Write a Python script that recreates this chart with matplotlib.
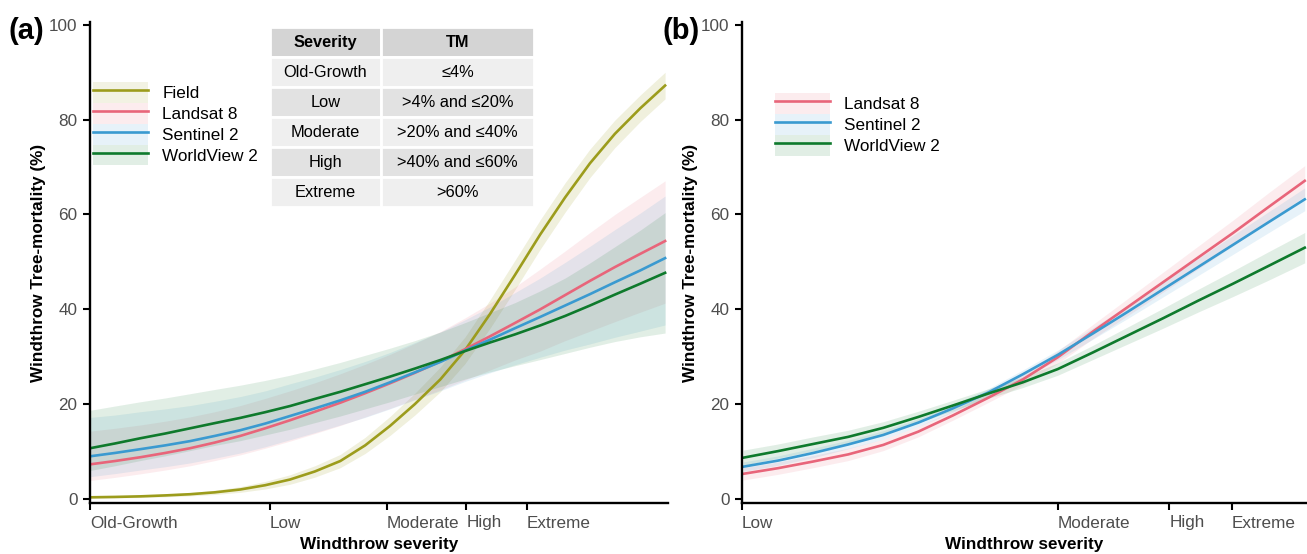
import matplotlib
matplotlib.use("Agg")
import matplotlib.pyplot as plt
from matplotlib.patches import Patch
from matplotlib.lines import Line2D
from matplotlib.legend_handler import HandlerTuple
import numpy as np

plt.rcParams['font.family'] = ['Liberation Sans', 'DejaVu Sans']

# ---- panel (a): all sources, x = normalised severity index ----
xa = [0.0, 0.043, 0.087, 0.130, 0.173, 0.216, 0.260, 0.303, 0.346, 0.389,
      0.433, 0.476, 0.519, 0.562, 0.606, 0.649, 0.692, 0.735, 0.779, 0.822,
      0.865, 0.908, 0.952, 0.995]

field = [0.35, 0.43, 0.55, 0.75, 1.0, 1.4, 2.0, 2.9, 4.1, 5.8,
         8.0, 11.3, 15.4, 20.0, 25.2, 31.4, 39.0, 47.2, 55.8, 63.6,
         70.8, 77.0, 82.4, 87.2]
field_ci = [0.2, 0.2, 0.25, 0.3, 0.35, 0.45, 0.6, 0.8, 1.0, 1.2,
            1.4, 1.7, 2.0, 2.3, 2.6, 2.8, 3.0, 3.1, 3.1, 3.1,
            3.0, 2.9, 2.8, 2.8]

land_a = [7.3, 8.0, 8.8, 9.7, 10.7, 11.9, 13.3, 14.9, 16.6, 18.4,
          20.3, 22.3, 24.4, 26.6, 29.0, 31.6, 34.3, 37.1, 40.0, 43.0,
          46.0, 48.9, 51.7, 54.4]
land_a_lo = [3.9, 4.55, 5.3, 6.1, 7.0, 8.1, 9.3, 10.7, 12.2, 13.8,
             15.5, 17.3, 19.1, 21.0, 23.0, 25.1, 27.2, 29.3, 31.2, 33.4,
             35.4, 37.4, 39.4, 41.3]
land_a_hi = [14.3, 14.9, 15.6, 16.4, 17.3, 18.4, 19.7, 21.2, 22.8, 24.5,
             26.4, 28.4, 30.5, 32.8, 35.3, 38.2, 41.3, 44.7, 48.5, 52.3,
             56.2, 60.0, 63.6, 67.1]

sent_a = [9.0, 9.7, 10.5, 11.3, 12.2, 13.3, 14.5, 15.9, 17.5, 19.1,
          20.8, 22.6, 24.6, 26.7, 28.9, 31.3, 33.6, 36.0, 38.4, 40.8,
          43.2, 45.7, 48.2, 50.8]
sent_a_lo = [4.7, 5.35, 6.1, 6.8, 7.6, 8.6, 9.7, 11.0, 12.5, 14.0,
             15.6, 17.2, 19.0, 20.9, 22.8, 24.8, 26.6, 28.3, 29.9, 31.4,
             32.7, 34.1, 35.4, 36.7]
sent_a_hi = [17.2, 17.7, 18.4, 19.0, 19.7, 20.6, 21.6, 22.8, 24.3, 25.7,
             27.3, 29.0, 30.9, 33.0, 35.2, 37.8, 40.5, 43.5, 46.6, 49.9,
             53.3, 56.8, 60.3, 63.9]

wv_a = [10.7, 11.7, 12.8, 13.8, 14.9, 16.0, 17.1, 18.3, 19.6, 21.1,
        22.6, 24.2, 25.8, 27.5, 29.3, 31.2, 33.0, 34.7, 36.6, 38.6,
        40.8, 43.1, 45.4, 47.7]
wv_a_lo = [6.0, 7.0, 8.1, 9.1, 10.2, 11.3, 12.3, 13.5, 14.7, 16.1,
           17.5, 19.0, 20.5, 22.1, 23.7, 25.3, 26.8, 28.1, 29.4, 30.7,
           32.0, 33.2, 34.2, 35.0]
wv_a_hi = [18.7, 19.6, 20.5, 21.3, 22.2, 23.1, 24.0, 25.0, 26.1, 27.4,
           28.8, 30.3, 31.8, 33.4, 35.2, 37.2, 39.3, 41.4, 43.9, 46.6,
           49.8, 53.2, 56.7, 60.4]

ticks_a = [0.0, 0.311, 0.514, 0.651, 0.756]
labels_a = ["Old-Growth", "Low", "Moderate", "High", "Extreme"]

# ---- panel (b): remote sensing only ----
xb = [0.002, 0.064, 0.126, 0.188, 0.250, 0.312, 0.373, 0.435, 0.497,
      0.559, 0.621, 0.683, 0.745, 0.807, 0.869, 0.931, 0.996]
land_b = [5.3, 6.5, 7.9, 9.4, 11.4, 14.2, 17.6, 21.3, 25.2,
          29.9, 35.3, 40.5, 45.7, 50.9, 56.1, 61.5, 67.1]
land_b_ci = [1.3, 1.3, 1.3, 1.3, 1.2, 1.1, 1.0, 1.0, 1.1,
             1.3, 1.5, 1.8, 2.1, 2.4, 2.7, 3.0, 3.2]
sent_b = [6.8, 8.1, 9.7, 11.5, 13.5, 16.1, 19.1, 22.4, 26.3,
          30.4, 34.9, 39.5, 44.2, 48.9, 53.6, 58.3, 63.2]
sent_b_ci = [1.0, 1.0, 1.0, 0.9, 0.9, 0.8, 0.8, 0.8, 0.9,
             1.0, 1.2, 1.4, 1.6, 1.8, 2.0, 2.2, 2.4]
wv_b = [8.7, 10.1, 11.6, 13.1, 15.0, 17.3, 19.7, 22.2, 24.6,
        27.4, 30.9, 34.5, 38.1, 41.8, 45.4, 49.1, 53.0]
wv_b_ci = [1.6, 1.5, 1.5, 1.4, 1.3, 1.2, 1.1, 1.0, 1.1,
           1.3, 1.5, 1.8, 2.1, 2.4, 2.7, 3.0, 3.2]

ticks_b = [0.0, 0.559, 0.756, 0.867]
labels_b = ["Low", "Moderate", "High", "Extreme"]

severity_rows = [["Old-Growth", "≤4%"], ["Low", ">4% and ≤20%"],
                 ["Moderate", ">20% and ≤40%"], ["High", ">40% and ≤60%"],
                 ["Extreme", ">60%"]]
table_cols = ["Severity", "TM"]

c_field = "#9C9C1C"
c_land = "#E8657A"
c_sent = "#3A9AD0"
c_wv = "#0E7A2C"
ALPHA = 0.12
LW = 1.9
FS = 12.3


def style_axis(ax, ticks, labels):
    ax.set_ylim(-0.85, 100.6)
    ax.set_xlim(0, 1)
    ax.set_yticks([0, 20, 40, 60, 80, 100])
    ax.set_xticks(ticks)
    ax.set_xticklabels(labels, ha='left')
    for s in ['top', 'right']:
        ax.spines[s].set_visible(False)
    for s in ['left', 'bottom']:
        ax.spines[s].set_linewidth(1.7)
    ax.tick_params(length=5, width=1.5, colors='black', labelcolor='#4D4D4D',
                   labelsize=FS, pad=4)
    ax.set_xlabel("Windthrow severity", fontweight='bold', fontsize=FS, labelpad=5)
    ax.set_ylabel("Windthrow Tree-mortality (%)", fontweight='bold', fontsize=FS,
                  labelpad=2)


def legend_handles(colors):
    return [(Patch(facecolor=c, alpha=ALPHA, edgecolor='none'),
             Line2D([], [], color=c, lw=LW)) for c in colors]


fig = plt.figure(figsize=(13.07, 5.54), dpi=100)
ax1 = fig.add_axes([90 / 1307, 1 - 503 / 554, 578 / 1307, 481 / 554])
ax2 = fig.add_axes([742 / 1307, 1 - 503 / 554, 565 / 1307, 481 / 554])

# panel a
fa = np.array(field)
fca = np.array(field_ci)
ax1.fill_between(xa, fa - fca, fa + fca, color=c_field, alpha=0.15, lw=0)
ax1.plot(xa, field, color=c_field, lw=LW)
for y, lo, hi, c in [(land_a, land_a_lo, land_a_hi, c_land),
                     (sent_a, sent_a_lo, sent_a_hi, c_sent),
                     (wv_a, wv_a_lo, wv_a_hi, c_wv)]:
    ax1.fill_between(xa, lo, hi, color=c, alpha=ALPHA, lw=0)
    ax1.plot(xa, y, color=c, lw=LW)
style_axis(ax1, ticks_a, labels_a)

leg_kw = dict(handler_map={tuple: HandlerTuple(ndivide=1)}, loc='upper left',
              bbox_transform=fig.transFigure, frameon=False, fontsize=FS,
              borderpad=0, borderaxespad=0, labelspacing=0,
              handlelength=3.2, handleheight=1.5, handletextpad=0.85)
ax1.legend(legend_handles([c_field, c_land, c_sent, c_wv]),
           ["Field", "Landsat 8", "Sentinel 2", "WorldView 2"],
           bbox_to_anchor=(93 / 1307, 1 - 82 / 554), **leg_kw)

tab = ax1.table(cellText=severity_rows, colLabels=table_cols, cellLoc='center',
                colWidths=[0.42 * 0.458, 0.58 * 0.458],
                bbox=[0.311, 0.615, 0.458, 0.374])
tab.auto_set_font_size(False)
for (r, c), cell in tab.get_celld().items():
    cell.set_edgecolor('white')
    cell.set_linewidth(2)
    cell.get_text().set_fontsize(11.8)
    if r == 0:
        cell.set_facecolor('#D4D4D4')
        cell.get_text().set_fontweight('bold')
    elif r % 2 == 1:
        cell.set_facecolor('#EFEFEF')
    else:
        cell.set_facecolor('#E2E2E2')

# panel b
for y, ci, c in [(land_b, land_b_ci, c_land), (sent_b, sent_b_ci, c_sent),
                 (wv_b, wv_b_ci, c_wv)]:
    ya = np.array(y)
    ca = np.array(ci)
    ax2.fill_between(xb, ya - ca, ya + ca, color=c, alpha=ALPHA, lw=0)
    ax2.plot(xb, y, color=c, lw=LW)
style_axis(ax2, ticks_b, labels_b)
ax2.legend(legend_handles([c_land, c_sent, c_wv]),
           ["Landsat 8", "Sentinel 2", "WorldView 2"],
           bbox_to_anchor=(775 / 1307, 1 - 93 / 554), **leg_kw)

fig.text(8 / 1307, 1 - 31 / 554, "(a)", fontsize=21, fontweight='bold', va='center')
fig.text(663 / 1307, 1 - 31 / 554, "(b)", fontsize=21, fontweight='bold', va='center')

fig.savefig("out.png", dpi=100)
